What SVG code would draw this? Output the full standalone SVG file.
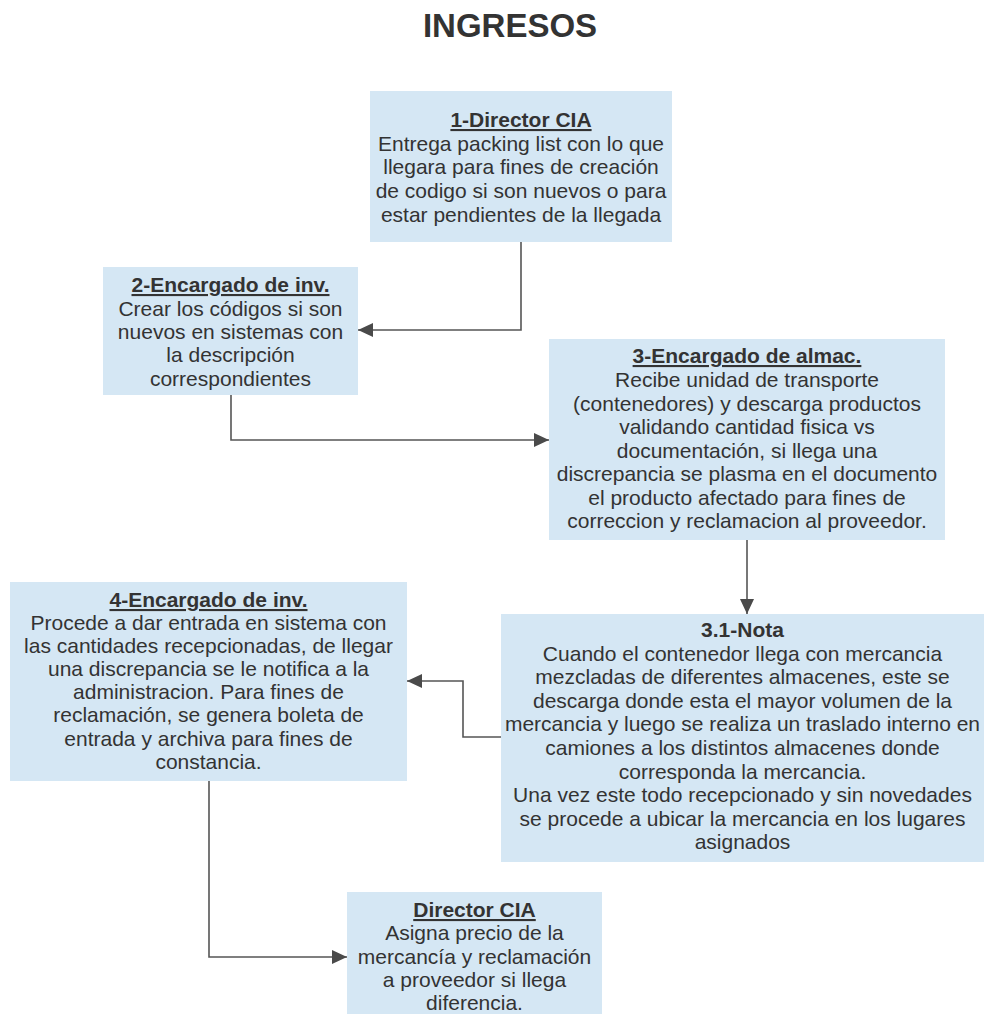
<svg xmlns="http://www.w3.org/2000/svg" width="985" height="1014" viewBox="0 0 985 1014">
<style>
.box{fill:#d5e7f4;stroke:none}
.t{font-family:"Liberation Sans",Arial,sans-serif;font-size:21px;fill:#333333;text-anchor:middle}
.h{font-weight:bold;text-decoration:underline}
.hn{font-weight:bold}
.title{font-family:"Liberation Sans",Arial,sans-serif;font-size:33px;font-weight:bold;fill:#333333;text-anchor:middle}
.c{fill:none;stroke:#555555;stroke-width:1.6;marker-end:url(#arr)}
</style>
<defs>
<marker id="arr" viewBox="0 0 15 14" refX="15" refY="7" markerWidth="15" markerHeight="14" orient="auto" markerUnits="userSpaceOnUse">
<path d="M0,0 L15,7 L0,14 z" fill="#4a4a4a"/>
</marker>
</defs>
<rect width="985" height="1014" fill="#ffffff"/>
<text class="title" x="510" y="37">INGRESOS</text>

<g id="connectors">
<path class="c" d="M521,242 V330 H358"/>
<path class="c" d="M231,395 V440 H549"/>
<path class="c" d="M747,540 V614"/>
<path class="c" d="M501,737 H463 V681 H407"/>
<path class="c" d="M209,781 V957 H347"/>
</g>

<g id="n1">
<rect class="box" x="370" y="91" width="302" height="151"/>
<text class="t h" x="521" y="127">1-Director CIA</text>
<text class="t" x="521" y="150.5">Entrega packing list con lo que</text>
<text class="t" x="521" y="174">llegara para fines de creación</text>
<text class="t" x="521" y="198">de codigo si son nuevos o para</text>
<text class="t" x="521" y="221.5">estar pendientes de la llegada</text>
</g>

<g id="n2">
<rect class="box" x="103" y="267" width="255" height="128"/>
<text class="t h" x="230.5" y="292">2-Encargado de inv.</text>
<text class="t" x="230.5" y="315.5">Crear los códigos si son</text>
<text class="t" x="230.5" y="339">nuevos en sistemas con</text>
<text class="t" x="230.5" y="362">la descripción</text>
<text class="t" x="230.5" y="385.5">correspondientes</text>
</g>

<g id="n3">
<rect class="box" x="549" y="339" width="396" height="201"/>
<text class="t h" x="747" y="363">3-Encargado de almac.</text>
<text class="t" x="747" y="387">Recibe unidad de transporte</text>
<text class="t" x="747" y="410.5">(contenedores) y descarga productos</text>
<text class="t" x="747" y="434">validando cantidad fisica vs</text>
<text class="t" x="747" y="457.5">documentación, si llega una</text>
<text class="t" x="747" y="481">discrepancia se plasma en el documento</text>
<text class="t" x="747" y="504.5">el producto afectado para fines de</text>
<text class="t" x="747" y="528">correccion y reclamacion al proveedor.</text>
</g>

<g id="n31">
<rect class="box" x="501" y="614" width="483" height="248"/>
<text class="t hn" x="742.5" y="637">3.1-Nota</text>
<text class="t" x="742.5" y="660.6">Cuando el contenedor llega con mercancia</text>
<text class="t" x="742.5" y="684.2">mezcladas de diferentes almacenes, este se</text>
<text class="t" x="742.5" y="707.8">descarga donde esta el mayor volumen de la</text>
<text class="t" x="742.5" y="731.4">mercancia y luego se realiza un traslado interno en</text>
<text class="t" x="742.5" y="755">camiones a los distintos almacenes donde</text>
<text class="t" x="742.5" y="778.6">corresponda la mercancia.</text>
<text class="t" x="742.5" y="802.2">Una vez este todo recepcionado y sin novedades</text>
<text class="t" x="742.5" y="825.8">se procede a ubicar la mercancia en los lugares</text>
<text class="t" x="742.5" y="849.4">asignados</text>
</g>

<g id="n4">
<rect class="box" x="10" y="582" width="397" height="199"/>
<text class="t h" x="208.5" y="607">4-Encargado de inv.</text>
<text class="t" x="208.5" y="629.5">Procede a dar entrada en sistema con</text>
<text class="t" x="208.5" y="652.5">las cantidades recepcionadas, de llegar</text>
<text class="t" x="208.5" y="675.5">una discrepancia se le notifica a la</text>
<text class="t" x="208.5" y="699">administracion. Para fines de</text>
<text class="t" x="208.5" y="722">reclamación, se genera boleta de</text>
<text class="t" x="208.5" y="745.5">entrada y archiva para fines de</text>
<text class="t" x="208.5" y="769">constancia.</text>
</g>

<g id="n5">
<rect class="box" x="347" y="892" width="255" height="122"/>
<text class="t h" x="474.5" y="917">Director CIA</text>
<text class="t" x="474.5" y="940">Asigna precio de la</text>
<text class="t" x="474.5" y="963.5">mercancía y reclamación</text>
<text class="t" x="474.5" y="987">a proveedor si llega</text>
<text class="t" x="474.5" y="1010">diferencia.</text>
</g>
</svg>
